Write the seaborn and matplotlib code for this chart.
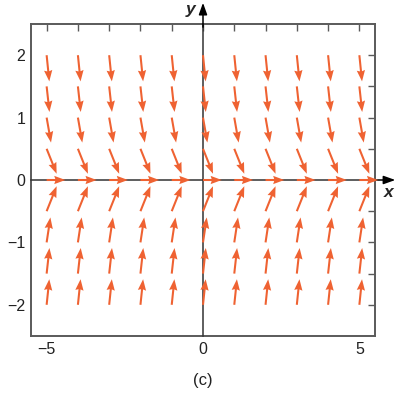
import numpy as np
import matplotlib
matplotlib.use("Agg")
import matplotlib.pyplot as plt
import seaborn as sns

# ---- data ----
x_positions = [-5, -4, -3, -2, -1, 0, 1, 2, 3, 4, 5]
y_positions = [-2.0, -1.5, -1.0, -0.5, 0.0, 0.5, 1.0, 1.5, 2.0]
# arrow components per row (same for every column), data units
u_by_row = [0.085, 0.09, 0.12, 0.32, 0.60, 0.32, 0.14, 0.09, 0.085]
v_by_row = [0.41, 0.41, 0.40, 0.40, 0.0, -0.40, -0.40, -0.41, -0.42]
x_tick_labels = [-5, 0, 5]
y_tick_labels = [-2, -1, 0, 1, 2]
caption = "(c)"

sns.set_style("white")
plt.rcParams["font.family"] = ["Liberation Sans", "DejaVu Sans"]

fig = plt.figure(figsize=(4.05, 3.93), dpi=100)
pos = [31 / 405, 57 / 393, 344 / 405, 312 / 393]
ax = fig.add_axes(pos)
xlim = (-5.5, 5.5)
ylim = (-2.5, 2.5)
ax.set_xlim(*xlim)
ax.set_ylim(*ylim)

box_color = "#5a5a5a"
for s in ax.spines.values():
    s.set_color(box_color)
    s.set_linewidth(1.4)

ax.set_xticks(x_tick_labels)
ax.set_xticklabels([str(t).replace("-", "\u2212") for t in x_tick_labels])
ax.set_yticks(y_tick_labels)
ax.set_yticklabels([str(t).replace("-", "\u2212") for t in y_tick_labels])
ax.set_xticks(np.arange(-5, 6, 1), minor=True)
ax.set_yticks(np.arange(-2, 2.01, 0.5), minor=True)
ax.tick_params(which="both", direction="in", top=True, right=True,
               color=box_color, width=1.0)
ax.tick_params(which="major", length=5, labelsize=11.5, pad=4,
               labelcolor="#222222")
ax.tick_params(which="minor", length=5)

# overlay axes with spines through the origin
ax2 = fig.add_axes(pos, frameon=True)
ax2.set_xlim(*xlim)
ax2.set_ylim(*ylim)
ax2.patch.set_alpha(0)
for k in ("top", "right"):
    ax2.spines[k].set_visible(False)
ax2.spines["left"].set_position(("data", 0))
ax2.spines["bottom"].set_position(("data", 0))
for k in ("left", "bottom"):
    ax2.spines[k].set_color("#333333")
    ax2.spines[k].set_linewidth(1.1)
ax2.set_xticks(np.arange(-5, 6, 1))
ax2.set_yticks(np.arange(-2, 2.01, 0.5))
ax2.tick_params(direction="inout", length=8, width=1.0, color="#333333",
                labelbottom=False, labelleft=False)

# axis arrows beyond the box
ax2.annotate("", xy=(6.15, 0), xytext=(5.4, 0), annotation_clip=False,
             arrowprops=dict(arrowstyle="-|>,head_length=0.7,head_width=0.25",
                             color="black", lw=1.1, shrinkA=0, shrinkB=0))
ax2.annotate("", xy=(0, 2.84), xytext=(0, 2.45), annotation_clip=False,
             arrowprops=dict(arrowstyle="-|>,head_length=0.7,head_width=0.25",
                             color="black", lw=1.1, shrinkA=0, shrinkB=0))
ax2.text(5.93, -0.2, "x", fontsize=12.5, fontweight="bold", style="italic",
         ha="center", va="center")
ax2.text(-0.4, 2.73, "y", fontsize=12.5, fontweight="bold", style="italic",
         ha="center", va="center")

# vector field
X, Y = np.meshgrid(x_positions, y_positions)
U = np.tile(np.array(u_by_row)[:, None], (1, len(x_positions)))
V = np.tile(np.array(v_by_row)[:, None], (1, len(x_positions)))
ax2.quiver(X, Y, U, V, angles="xy", scale_units="xy", scale=1,
           color="#EF6232", width=0.006, headwidth=4.0, headlength=5.4,
           headaxislength=4.9, minshaft=0.5, zorder=5, clip_on=False)

fig.text(203 / 405, 1 - 380 / 393, caption, fontsize=12, ha="center",
         va="center", color="#222222")

fig.savefig("out.png", dpi=100)
